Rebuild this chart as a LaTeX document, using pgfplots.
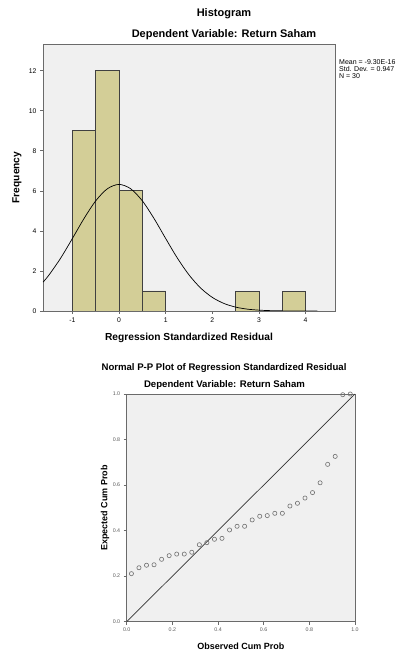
\documentclass[border=0pt]{standalone}
\usepackage{fontspec}
\setmainfont{Liberation Sans}
\usepackage{pgfplots}
\pgfplotsset{compat=1.18}

\definecolor{spssbar}{HTML}{D3CE97}
\definecolor{spssbg}{HTML}{F0F0F0}
\definecolor{spssframe}{HTML}{6A6A6A}
\definecolor{spssmark}{HTML}{707070}

\pgfplotsset{
  spss/.style={
    scale only axis,
    anchor=south west,
    axis background/.style={fill=spssbg},
    axis line style={spssframe, line width=0.8pt},
    tick pos=left,
    tick align=outside,
    major tick length=3pt,
    every tick/.style={spssframe, line width=0.6pt},
    /pgf/number format/assume math mode=true,
    label style={font=\bfseries\fontsize{10.2}{12}\selectfont},
  },
}

\begin{document}
\begin{tikzpicture}
\path[use as bounding box] (0pt,0pt) rectangle (400pt,653pt);

% ---- histogram ----
\node[font=\bfseries\fontsize{11}{13}\selectfont] at (224pt,639pt) {Histogram};
\node[font=\bfseries\fontsize{11}{13}\selectfont] at (224pt,618pt) {Dependent Variable: Return Saham};
\node[anchor=north west, align=left, inner sep=0pt,
      font=\fontsize{7}{7.2}\selectfont] at (339pt,593.5pt)
  {Mean = -9.30E-16\\Std. Dev. = 0.947\\N = 30};

\begin{axis}[spss,
    at={(43pt,342pt)}, width=292pt, height=267pt,
    xmin=-1.63, xmax=4.63, ymin=0, ymax=13.33,
    xtick={-1,0,1,2,3,4}, ytick={0,2,4,6,8,10,12},
    tick label style={font=\fontsize{6.8}{7}\selectfont},
    xlabel={Regression Standardized Residual},
    ylabel={Frequency},
    xlabel style={at={(axis description cs:0.5,-0.102)}, anchor=center},
    ylabel style={at={(axis description cs:-0.089,0.5)}, anchor=center, rotate=0},
  ]
  \addplot[ybar interval, fill=spssbar, draw=black!75, line width=0.7pt]
    coordinates {(-1,9)(-0.5,12)(0,6)(0.5,1)(1,0)};
  \addplot[ybar interval, fill=spssbar, draw=black!75, line width=0.7pt]
    coordinates {(2.5,1)(3,0)};
  \addplot[ybar interval, fill=spssbar, draw=black!75, line width=0.7pt]
    coordinates {(3.5,1)(4,0)};
  % normal curve, mean 0, sd 0.947, N 30, bin 0.5
  \addplot[black, line width=0.7pt, smooth] coordinates {
    (-1.63,1.437)(-1.5,1.802)(-1.25,2.645)(-1,3.619)(-0.75,4.619)
    (-0.5,5.498)(-0.25,6.103)(0,6.32)(0.25,6.103)(0.5,5.498)
    (0.75,4.619)(1,3.619)(1.25,2.645)(1.5,1.802)(1.75,1.146)
    (2,0.679)(2.25,0.376)(2.5,0.194)(2.75,0.093)(3,0.042)
    (3.25,0.018)(3.5,0.007)(3.75,0.003)(4,0.001)(4.25,0)
  };
\end{axis}

% ---- P-P plot ----
\node[font=\bfseries\fontsize{9.6}{11}\selectfont] at (224pt,285.3pt) {Normal P-P Plot of Regression Standardized Residual};
\node[font=\bfseries\fontsize{9.6}{11}\selectfont] at (224.5pt,267.5pt) {Dependent Variable: Return Saham};

\begin{axis}[spss,
    at={(126.7pt,31.3pt)}, width=228.3pt, height=227.7pt,
    xmin=0, xmax=1, ymin=0, ymax=1,
    xtick={0,0.2,0.4,0.6,0.8,1}, ytick={0,0.2,0.4,0.6,0.8,1},
    xticklabel style={/pgf/number format/.cd, fixed, fixed zerofill, precision=1},
    yticklabel style={/pgf/number format/.cd, fixed, fixed zerofill, precision=1},
    tick label style={font=\fontsize{5.3}{6}\selectfont, text=black!65},
    label style={font=\bfseries\fontsize{9}{11}\selectfont},
    xlabel={Observed Cum Prob},
    ylabel={Expected Cum Prob},
    xlabel style={at={(axis description cs:0.5,-0.107)}, anchor=center},
    ylabel style={at={(axis description cs:-0.095,0.5)}, anchor=center, rotate=0},
  ]
  \addplot[black!80, line width=0.7pt] coordinates {(0,0)(1,1)};
  \addplot[only marks, mark=o, mark size=2.1pt,
           mark options={draw=spssmark, line width=0.6pt, fill=none}]
    coordinates {
    (0.0207,0.211)(0.0537,0.237)(0.0868,0.248)(0.1198,0.250)(0.1529,0.274)
    (0.1860,0.290)(0.2190,0.297)(0.2521,0.297)(0.2851,0.305)(0.3182,0.338)
    (0.3512,0.347)(0.3843,0.362)(0.4174,0.366)(0.4504,0.403)(0.4835,0.419)
    (0.5165,0.419)(0.5496,0.447)(0.5826,0.463)(0.6157,0.466)(0.6488,0.476)
    (0.6818,0.476)(0.7149,0.508)(0.7479,0.520)(0.7810,0.543)(0.8140,0.567)
    (0.8471,0.610)(0.8802,0.691)(0.9132,0.726)(0.9463,0.997)(0.9793,1.000)
  };
\end{axis}
\end{tikzpicture}
\end{document}
